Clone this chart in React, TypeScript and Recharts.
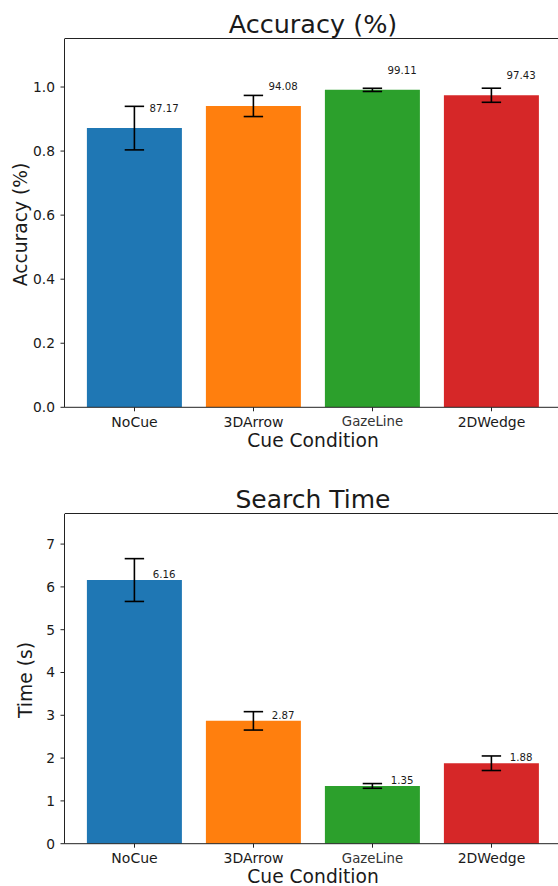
import React from 'react';
import { BarChart, Bar, XAxis, YAxis, ErrorBar, LabelList, Cell } from 'recharts';

const categories = ['NoCue', '3DArrow', 'GazeLine', '2DWedge'];
const barColors = ['#1f77b4', '#ff7f0e', '#2ca02c', '#d62728'];

const accuracyMean = [0.8717, 0.9408, 0.9911, 0.9743];
const accuracyErr = [0.068, 0.033, 0.005, 0.022];
const accuracyLabels = ['87.17', '94.08', '99.11', '97.43'];
const accuracyTicks = [0, 0.2, 0.4, 0.6, 0.8, 1.0];

const timeMean = [6.16, 2.87, 1.35, 1.88];
const timeErr = [0.5, 0.215, 0.055, 0.17];
const timeLabels = ['6.16', '2.87', '1.35', '1.88'];
const timeTicks = [0, 1, 2, 3, 4, 5, 6, 7];

const FONT = '"DejaVu Sans", sans-serif';
const TEXT = '#1a1a1a';
const SPINE = '#222';

const accData = categories.map((c, i) => ({ name: c, value: accuracyMean[i], err: accuracyErr[i], label: accuracyLabels[i] }));
const timeData = categories.map((c, i) => ({ name: c, value: timeMean[i], err: timeErr[i], label: timeLabels[i] }));

const XTick = (props: any) => {
    const { x, y, payload } = props;
    const small = payload.value === 'GazeLine';
    return (
        <text x={x} y={y} dy="0.71em" textAnchor="middle" fontFamily={FONT}
            fontSize={small ? 13.3 : 14} fill={small ? '#333' : TEXT}>
            {payload.value}
        </text>
    );
};

// value labels sit at (x + 0.25, mean + 0.05) in data units, like the original plt.text
const makeValueLabel = (pxPerUnit: number, band: number) => (props: any) => {
    const { x, y, width, value } = props;
    return (
        <text x={x + width / 2 + band * 0.25} y={y - 0.05 * pxPerUnit} textAnchor="middle"
            fontFamily={FONT} fontSize={10.2} fill={TEXT}>
            {value}
        </text>
    );
};

interface PanelProps {
    data: any[];
    top: number;
    height: number;
    plotTop: number;
    plotHeight: number;
    yMax: number;
    ticks: number[];
    fmt: (v: number) => string;
}

function Panel({ data, top, height, plotTop, plotHeight, yMax, ticks, fmt }: PanelProps) {
    const band = 119;
    const pxPerUnit = plotHeight / yMax;
    return (
        <div style={{ position: 'absolute', left: 0, top, width: 558, height }}>
            <BarChart width={558} height={height} data={data} barCategoryGap="10%"
                margin={{ top: plotTop, right: 0, left: 0, bottom: 0 }}>
                <XAxis dataKey="name" height={height - plotTop - plotHeight} interval={0}
                    padding={{ left: 10.5, right: 7 }} tick={<XTick />} tickSize={4} tickMargin={5.5}
                    axisLine={{ stroke: SPINE }} tickLine={{ stroke: SPINE }} />
                <YAxis width={64.5} domain={[0, yMax]} ticks={ticks} tickFormatter={fmt}
                    allowDataOverflow tickSize={4} tickMargin={5.5}
                    tick={{ fontSize: 13.8, fill: TEXT, fontFamily: FONT }}
                    axisLine={{ stroke: SPINE }} tickLine={{ stroke: SPINE }} />
                <Bar dataKey="value" isAnimationActive={false}>
                    {data.map((d, i) => <Cell key={d.name} fill={barColors[i]} />)}
                    <ErrorBar dataKey="err" width={9.7} stroke="#000" strokeWidth={1.6} direction="y" />
                    <LabelList dataKey="label" content={makeValueLabel(pxPerUnit, band)} />
                </Bar>
            </BarChart>
            {/* top spine (right spine falls outside the picture) */}
            <div style={{ position: 'absolute', left: 64.5, top: plotTop - 0.5, width: 494, height: 0, borderTop: `1px solid ${SPINE}` }} />
        </div>
    );
}

export default function App() {
    return (
        <div style={{ position: 'absolute', left: 0, top: 0, width: 558, height: 886, background: '#fff', fontFamily: FONT }}>
            <Panel data={accData} top={0} height={460} plotTop={38.5} plotHeight={368.8}
                yMax={1.1515} ticks={accuracyTicks} fmt={(v) => v.toFixed(1)} />
            <Panel data={timeData} top={460} height={426} plotTop={53.7} plotHeight={330}
                yMax={7.71} ticks={timeTicks} fmt={(v) => String(v)} />
            <svg width={558} height={886} style={{ position: 'absolute', left: 0, top: 0, pointerEvents: 'none' }}>
                <g fontFamily={FONT} fill={TEXT} textAnchor="middle">
                    <text x={313} y={32.7} fontSize={25.5}>Accuracy (%)</text>
                    <text x={313} y={447.3} fontSize={18.7}>Cue Condition</text>
                    <text transform="translate(27.2,224.5) rotate(-90)" fontSize={18.7}>Accuracy (%)</text>
                    <text x={313} y={508} fontSize={25}>Search Time</text>
                    <text x={313} y={883} fontSize={18.7}>Cue Condition</text>
                    <text transform="translate(31.7,680) rotate(-90)" fontSize={18.7}>Time (s)</text>
                </g>
            </svg>
        </div>
    );
}
